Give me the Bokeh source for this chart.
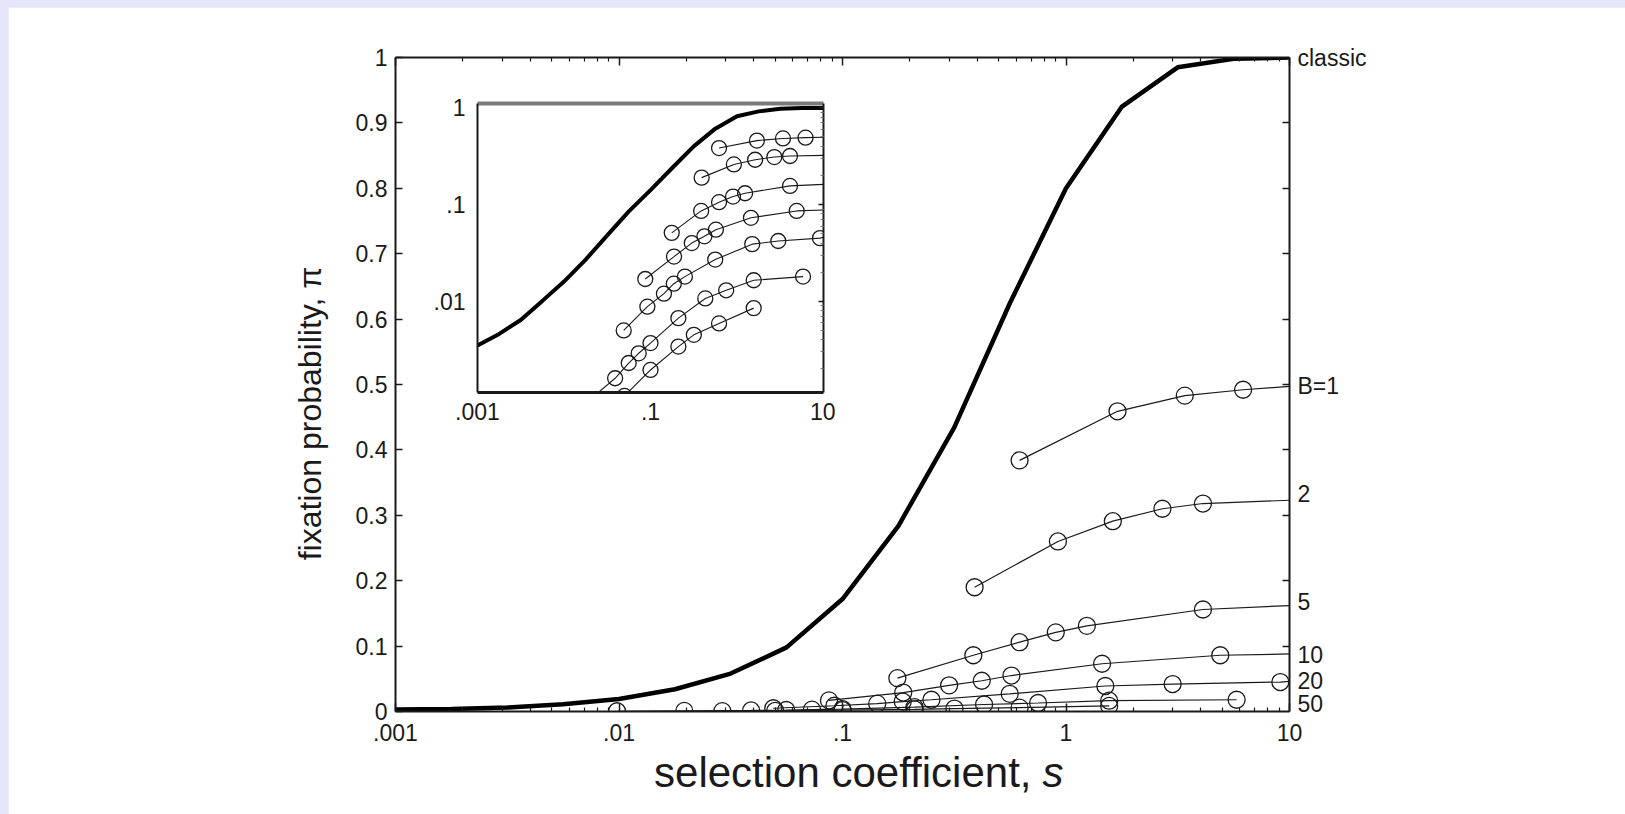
import math

from bokeh.plotting import figure
from bokeh.models import FixedTicker, LinearAxis, LogAxis, Range1d, Label, Spacer
from bokeh.embed import file_html
from bokeh.resources import INLINE

FONT = "Liberation Sans"
INK = "#1a1a1a"
PAGE_W, PAGE_H = 1625, 814

# ---------------- data ----------------
# classic fixation probability (main panel, linear y)
classic_s = [0.001, 0.00178, 0.00316, 0.00562, 0.01, 0.0178, 0.0316, 0.0562,
             0.1, 0.178, 0.316, 0.562, 1.0, 1.78, 3.16, 5.62, 10.0]
classic_pi = [0.003, 0.004, 0.006, 0.011, 0.019, 0.034, 0.058, 0.098,
              0.172, 0.284, 0.434, 0.625, 0.800, 0.925, 0.985, 0.998, 1.0]

# classic curve as plotted in the log-log inset
inset_classic_s = classic_s
inset_classic_pi = [0.0035, 0.0046, 0.0064, 0.0101, 0.016, 0.027, 0.048, 0.085,
                    0.141, 0.239, 0.40, 0.61, 0.82, 0.92, 0.98, 0.995, 1.0]

# simulated fixation probabilities for each bottleneck size B
b1_s = [0.62, 1.7, 3.4, 6.2]
b1_pi = [0.384, 0.459, 0.483, 0.492]
b2_s = [0.39, 0.92, 1.62, 2.7, 4.1]
b2_pi = [0.190, 0.260, 0.291, 0.310, 0.318]
b5_s = [0.176, 0.385, 0.62, 0.9, 1.24, 4.1]
b5_pi = [0.051, 0.086, 0.106, 0.121, 0.131, 0.156]
b10_s = [0.087, 0.187, 0.30, 0.42, 0.57, 1.45, 4.9]
b10_pi = [0.017, 0.029, 0.040, 0.047, 0.055, 0.073, 0.086]
b20_s = [0.049, 0.092, 0.143, 0.186, 0.25, 0.56, 1.5, 3.0, 9.1]
b20_pi = [0.005, 0.0088, 0.012, 0.0152, 0.018, 0.027, 0.039, 0.042, 0.045]
b50_s = [0.0098, 0.0196, 0.039, 0.056, 0.073, 0.1, 0.21, 0.43, 0.75, 1.56, 5.8]
b50_pi = [0.0004, 0.00095, 0.0016, 0.0023, 0.0029, 0.0037, 0.0067, 0.0107,
          0.013, 0.0165, 0.018]
extra_s = [0.029, 0.05, 0.1, 0.21, 0.317, 0.62, 1.56]
extra_pi = [0.0006, 0.00105, 0.00195, 0.0034, 0.0045, 0.0059, 0.0085]

# limiting value at s = 10 (None: series stops at its last point)
b_end = {"1": 0.497, "2": 0.323, "5": 0.162, "10": 0.088, "20": 0.046, "50": None}

series = [
    ("1", b1_s, b1_pi),
    ("2", b2_s, b2_pi),
    ("5", b5_s, b5_pi),
    ("10", b10_s, b10_pi),
    ("20", b20_s, b20_pi),
    ("50", b50_s, b50_pi),
    (None, extra_s, extra_pi),
]

# curve names written along the right-hand edge, and where they sit
right_names = ["classic", "B=1", "2", "5", "10", "20", "50"]
right_label_pi = [1.0, 0.498, 0.333, 0.167, 0.087, 0.046, 0.012]

x_major = [0.001, 0.01, 0.1, 1.0, 10.0]
x_major_text = [".001", ".01", ".1", "1", "10"]
x_minor = [m * 10.0 ** e for e in range(-3, 1) for m in range(2, 10)]
y_major = [0, 0.1, 0.2, 0.3, 0.4, 0.5, 0.6, 0.7, 0.8, 0.9, 1]
y_major_text = ["0", "0.1", "0.2", "0.3", "0.4", "0.5", "0.6", "0.7", "0.8", "0.9", "1"]

inset_x_major = [0.001, 0.1, 10.0]
inset_x_text = [".001", ".1", "10"]
inset_y_major = [0.01, 0.1, 1.0]
inset_y_text = [".01", ".1", "1"]
inset_y_minor = [m * 10.0 ** e for e in range(-3, 0) for m in range(2, 10)]

x_title = "selection coefficient,"
x_title_var = "s"
y_title = "fixation probability, \u03c0"


def style_axis(ax, size="23px"):
    ax.axis_line_color = INK
    ax.axis_line_width = 2
    ax.major_tick_line_color = INK
    ax.minor_tick_line_color = INK
    ax.major_tick_line_width = 1.5
    ax.minor_tick_line_width = 1.2
    ax.major_tick_out = 0
    ax.minor_tick_out = 0
    ax.major_label_text_font = FONT
    ax.major_label_text_font_size = size
    ax.major_label_text_color = INK


def blank_labels(ticks):
    return {t: "" for t in ticks}


def draw_series(fig, size, lw):
    for name, s, pi in series:
        end = b_end.get(name) if name else None
        xs = list(s) + ([10.0] if end is not None else [])
        ys = list(pi) + ([end] if end is not None else [])
        fig.line(xs, ys, line_color=INK, line_width=lw)
        fig.scatter(s, pi, marker="circle", size=size, fill_color=None,
                    line_color=INK, line_width=1.3)


# ---------------- main panel ----------------
p = figure(x_axis_type="log", x_range=Range1d(0.001, 10), y_range=Range1d(0, 1),
           frame_width=894, frame_height=654,
           min_border_left=387, min_border_right=336, min_border_top=50,
           min_border_bottom=103, output_backend="svg", toolbar_location=None,
           background_fill_color="white", border_fill_color="white",
           outline_line_color=None)
p.grid.visible = False

xa = p.xaxis[0]
xa.ticker = FixedTicker(ticks=x_major, minor_ticks=x_minor)
xa.major_label_overrides = dict(zip(x_major, x_major_text))
style_axis(xa)
xa.major_tick_in = 8
xa.minor_tick_in = 4
xa.major_label_standoff = 12

ya = p.yaxis[0]
ya.ticker = FixedTicker(ticks=y_major)
ya.major_label_overrides = dict(zip(y_major, y_major_text))
style_axis(ya)
ya.major_tick_in = 7
ya.minor_tick_in = 0
ya.major_label_standoff = 8

top = LogAxis(ticker=FixedTicker(ticks=x_major, minor_ticks=x_minor),
              major_label_overrides=blank_labels(x_major))
style_axis(top)
top.major_tick_in = 8
top.minor_tick_in = 4
p.add_layout(top, "above")

# right edge: inward ticks every 0.1, curve names beside the axis
right = LinearAxis(ticker=FixedTicker(ticks=right_label_pi, minor_ticks=y_major[1:-1]),
                   major_label_overrides=dict(zip(right_label_pi, right_names)))
style_axis(right)
right.major_tick_in = 0
right.minor_tick_in = 7
right.minor_tick_line_width = 1.5
right.major_label_standoff = 8
p.add_layout(right, "right")

p.line(classic_s, classic_pi, line_color="black", line_width=4.5)
draw_series(p, 17, 1.2)

p.styles = {"position": "absolute", "left": "8px", "top": "7px"}

# ---------------- inset (log-log) ----------------
q = figure(x_axis_type="log", y_axis_type="log",
           x_range=Range1d(0.001, 10), y_range=Range1d(0.00114, 1.11),
           frame_width=346, frame_height=289,
           min_border_left=62, min_border_right=12, min_border_top=12,
           min_border_bottom=38, output_backend="svg", toolbar_location=None,
           background_fill_color="white", border_fill_alpha=0,
           outline_line_color=None)
q.grid.visible = False

qx = q.xaxis[0]
qx.ticker = FixedTicker(ticks=inset_x_major)
qx.major_label_overrides = dict(zip(inset_x_major, inset_x_text))
style_axis(qx)
qx.axis_line_width = 3
qx.major_tick_in = 0
qx.minor_tick_in = 0
qx.major_label_standoff = 10

qy = q.yaxis[0]
qy.ticker = FixedTicker(ticks=inset_y_major)
qy.major_label_overrides = dict(zip(inset_y_major, inset_y_text))
style_axis(qy)
qy.major_tick_in = 0
qy.minor_tick_in = 0
qy.major_label_standoff = 12

qtop = LogAxis(ticker=FixedTicker(ticks=[]), major_label_overrides={})
style_axis(qtop)
qtop.axis_line_color = "#7a7a7a"
qtop.axis_line_width = 4
q.add_layout(qtop, "above")

qright = LogAxis(ticker=FixedTicker(ticks=inset_y_major, minor_ticks=inset_y_minor),
                 major_label_overrides=blank_labels(inset_y_major))
style_axis(qright)
qright.major_tick_in = 5
qright.minor_tick_in = 3
qright.minor_tick_line_color = "#777777"
q.add_layout(qright, "right")

q.line(inset_classic_s, inset_classic_pi, line_color="black", line_width=4)
draw_series(q, 15, 1.1)

q.styles = {"position": "absolute", "left": "415px", "top": "91px"}

# ---------------- axis titles ----------------
# a transparent page-sized layer in pixel units carries the two axis titles
cap = figure(x_range=Range1d(0, PAGE_W), y_range=Range1d(0, PAGE_H),
             width=PAGE_W, height=PAGE_H, min_border=0, output_backend="svg",
             toolbar_location=None, background_fill_alpha=0, border_fill_alpha=0,
             outline_line_color=None)
cap.axis.visible = False
cap.grid.visible = False

title_font = dict(text_font=FONT, text_color=INK)
cap.add_layout(Label(x=1031, y=PAGE_H - 772, text=x_title, text_font_size="42px",
                     text_align="right", text_baseline="alphabetic", **title_font))
cap.add_layout(Label(x=1031, y=PAGE_H - 772, x_offset=11, text=x_title_var,
                     text_font_size="42px", text_font_style="italic",
                     text_align="left", text_baseline="alphabetic", **title_font))
cap.add_layout(Label(x=309, y=PAGE_H - 413, text=y_title, angle=math.pi / 2,
                     text_font_size="32px", text_align="center",
                     text_baseline="middle", **title_font))
cap.styles = {"position": "absolute", "left": "0px", "top": "0px"}

# page backdrop: lavender strip along the top and left edges
bg = Spacer(width=PAGE_W, height=PAGE_H,
            styles={"position": "absolute", "left": "0px", "top": "0px",
                    "background-color": "#e6e6fa"})

open("out.html", "w").write(file_html([bg, p, q, cap], INLINE))
